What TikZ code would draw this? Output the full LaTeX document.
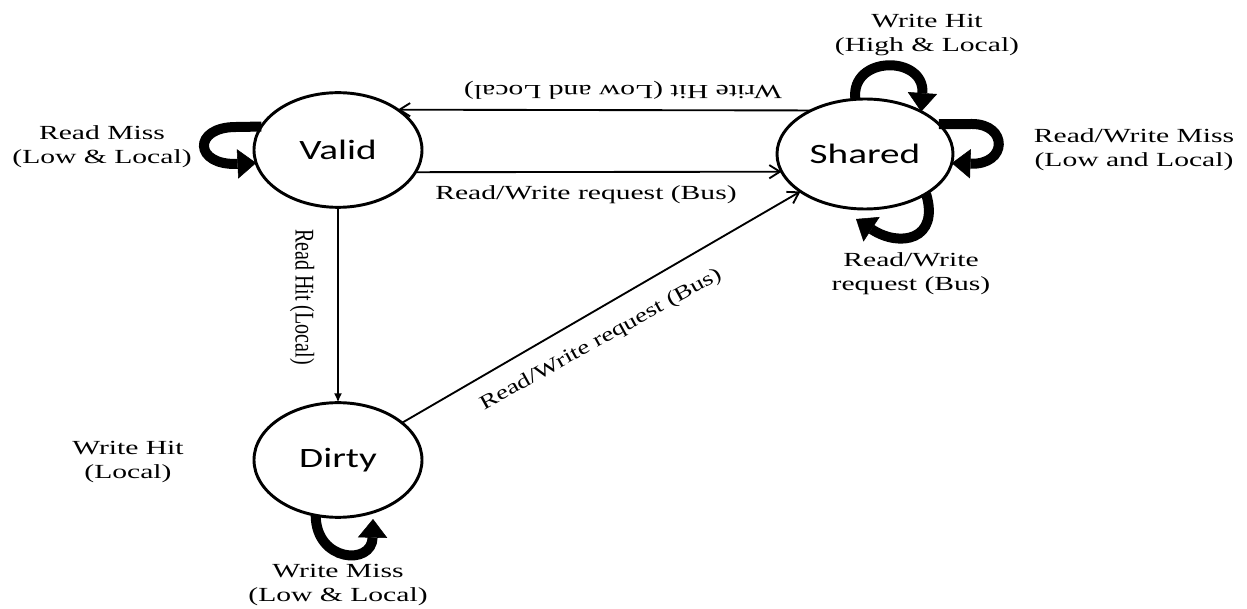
\documentclass[tikz,border=0pt]{standalone}
\usepackage{fontspec}
\setmainfont{Liberation Serif}
\newfontfamily\statefont{Carlito}
\usepackage{graphicx}
\usetikzlibrary{arrows.meta,shapes.geometric}

% horizontally widened text
\newcommand{\wx}[1]{\scalebox{1.48}[1]{#1}}

\begin{document}
\begin{tikzpicture}[x=0.75pt, y=-0.75pt,
  state/.style={ellipse, draw, line width=2.2pt, inner sep=0pt, outer sep=0pt,
    minimum width=126pt, minimum height=86pt,
    font=\statefont\fontsize{21}{24}\selectfont},
  lbl/.style={font=\fontsize{15}{18}\selectfont, align=center, inner sep=0pt},
  trans/.style={line width=1.4pt, -{Straight Barb[length=8pt,width=10pt]}},
  loopar/.style={line width=7.5pt, line cap=butt,
    -{Triangle[length=14pt,width=22pt,line width=0.4pt]}},
]
\useasboundingbox (0,0) rectangle (1247,609);

% states
\node[state] (valid) at (338,150) {\scalebox{1.4}[1]{Valid}};
\node[state, minimum width=132pt, minimum height=82.5pt] (shared) at (865,154) {\scalebox{1.4}[1]{Shared}};
\node[state] (dirty) at (338,460) {\scalebox{1.4}[1]{Dirty}};

% transitions between states
\draw[trans] (shared.141) -- (valid.34);
\draw[trans] (valid.-16) -- (shared.-168);
\draw[line width=1.4pt, -{Latex[length=7pt,width=6pt]}] (valid.south) -- (dirty.north);
\draw[trans] (dirty) -- (shared);

% free ends of two self loops
\coordinate (sbtip) at (856,219);
\coordinate (dtip) at (373,519);

% self loops
\draw[loopar] (valid.163) -- (236,127) .. controls (192,127) and (194,166) .. (valid.189);
\draw[loopar] (shared.100) .. controls (850,55) and (925,55) .. (shared.37);
\draw[loopar] (shared.22) -- (972,124) .. controls (1008,124) and (1008,165) .. (shared.-6);
\draw[loopar] (shared.-33) .. controls (940,240) and (900,248) .. (sbtip);
\draw[loopar] (dirty.-112) .. controls (316,562) and (372,566) .. (dtip);

% transition labels
\node[lbl, rotate=180] (lwhlow) at (623,90) {\wx{Write Hit (Low and Local)}};
\node[lbl] (lrwbus) at (586,195) {\wx{Read/Write request (Bus)}};
\node[lbl, rotate=-90] (lreadhit) at (302,297) {\scalebox{1}[1.35]{Read Hit (Local)}};
\node[lbl, rotate=29] (ldiag) at (601,340) {\scalebox{1.34}[1]{Read/Write request (Bus)}};

% self loop labels
\node[lbl] (lreadmiss) at (102,147) {\wx{Read Miss}\\\wx{(Low \& Local)}};
\node[lbl] (lwhhigh) at (927,35) {\wx{Write Hit}\\\wx{(High \& Local)}};
\node[lbl] (lrwmiss) at (1134,150) {\wx{Read/Write Miss}\\\wx{(Low and Local)}};
\node[lbl] (lrwreq) at (911,274) {\wx{Read/Write}\\\wx{request (Bus)}};
\node[lbl] (lwhlocal) at (128,462) {\wx{Write Hit}\\\wx{(Local)}};
\node[lbl] (lwmiss) at (338,585) {\wx{Write Miss}\\\wx{(Low \& Local)}};
\end{tikzpicture}
\end{document}
